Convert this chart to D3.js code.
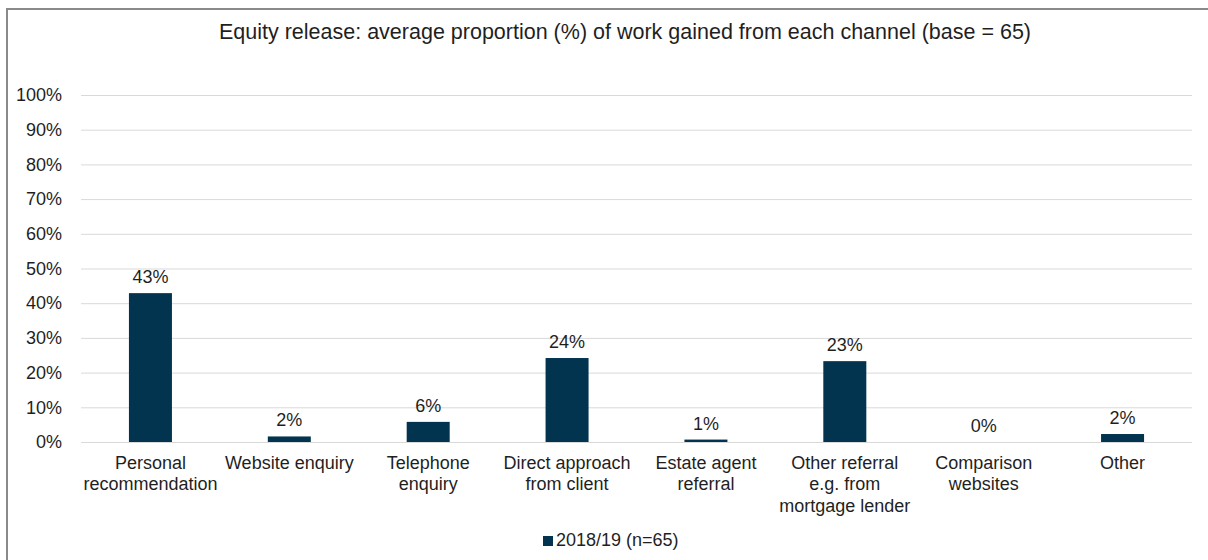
<!DOCTYPE html>
<html>
<head>
<meta charset="utf-8">
<script src="https://cdn.jsdelivr.net/npm/d3@7"></script>
<style>
  body { margin: 0; background: #fff; }
  svg { font-family: "Liberation Sans", Arial, sans-serif; }
  .grid line { stroke: #d9d9d9; }
  .grid .domain { display: none; }
  .axis text { fill: #1f1f1f; }
</style>
</head>
<body>
<svg width="1208" height="560"></svg>
<script>
var categories = [
    "Personal\nrecommendation",
    "Website enquiry",
    "Telephone\nenquiry",
    "Direct approach\nfrom client",
    "Estate agent\nreferral",
    "Other referral\ne.g. from\nmortgage lender",
    "Comparison\nwebsites",
    "Other"
];
var values = [42.9, 1.6, 5.8, 24.2, 0.7, 23.3, 0, 2.3];
var labels = ["43%", "2%", "6%", "24%", "1%", "23%", "0%", "2%"];
var yTicks = [0, 10, 20, 30, 40, 50, 60, 70, 80, 90, 100];
var seriesName = "2018/19 (n=65)";
var title = "Equity release: average proportion (%) of work gained from each channel (base = 65)";

var svg = d3.select("svg"),
    margin = {top: 95, right: 15, bottom: 118, left: 81},
    width = 1192 - margin.left,
    height = 442 - margin.top,
    g = svg.append("g").attr("transform", "translate(" + margin.left + "," + margin.top + ")");

var barColor = "#02344f";

// outer frame
svg.append("rect")
    .attr("x", 7).attr("y", 9)
    .attr("width", 1220).attr("height", 600)
    .attr("fill", "none")
    .attr("stroke", "#8a8a8a")
    .attr("stroke-width", 2);

svg.append("text")
    .attr("x", 625)
    .attr("y", 39)
    .attr("text-anchor", "middle")
    .style("font-size", "21.5px")
    .attr("fill", "#1f1f1f")
    .text(title);

var x = d3.scaleBand().domain(categories).range([0, width]).paddingInner(0).paddingOuter(0);
var y = d3.scaleLinear().domain([0, 100]).range([height, 0]);

// gridlines
g.append("g")
    .attr("class", "grid")
    .call(d3.axisLeft(y).tickValues(yTicks).tickSize(-width).tickFormat(""));

// y axis labels
var yAxis = g.append("g")
    .attr("class", "axis")
    .attr("transform", "translate(-16,0)")
    .call(d3.axisLeft(y).tickValues(yTicks).tickSize(0).tickFormat(function(d) { return d + "%"; }));
yAxis.select(".domain").remove();
yAxis.selectAll("text").style("font-size", "18px").attr("dy", "0.32em");

// bars
var bw = 43;
g.selectAll(".bar")
    .data(values)
    .enter().append("rect")
    .attr("class", "bar")
    .attr("x", function(d, i) { return x(categories[i]) + x.bandwidth() / 2 - bw / 2; })
    .attr("y", function(d) { return y(d); })
    .attr("width", bw)
    .attr("height", function(d) { return height - y(d); })
    .attr("fill", barColor);

// data labels
g.selectAll(".lbl")
    .data(values)
    .enter().append("text")
    .attr("class", "lbl")
    .attr("x", function(d, i) { return x(categories[i]) + x.bandwidth() / 2; })
    .attr("y", function(d) { return y(d) - 10; })
    .attr("text-anchor", "middle")
    .style("font-size", "18px")
    .attr("fill", "#1f1f1f")
    .text(function(d, i) { return labels[i]; });

// category labels
var cat = g.selectAll(".cat")
    .data(categories)
    .enter().append("text")
    .attr("class", "cat")
    .attr("text-anchor", "middle")
    .attr("transform", function(d) { return "translate(" + (x(d) + x.bandwidth() / 2) + "," + (height + 27) + ")"; })
    .style("font-size", "18px")
    .attr("fill", "#1f1f1f");

cat.selectAll("tspan")
    .data(function(d) { return d.split("\n"); })
    .enter().append("tspan")
    .attr("x", 0)
    .attr("y", function(d, i) { return i * 21.3; })
    .text(function(d) { return d; });

// legend
var legend = svg.append("g").attr("transform", "translate(543,536)");
legend.append("rect").attr("width", 10).attr("height", 10).attr("fill", barColor);
legend.append("text")
    .attr("x", 13).attr("y", 10)
    .style("font-size", "18px")
    .attr("fill", "#1f1f1f")
    .text(seriesName);
</script>
</body>
</html>
